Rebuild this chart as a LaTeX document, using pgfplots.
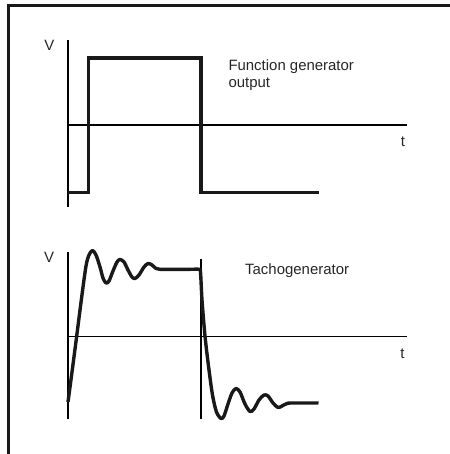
\documentclass[border=0pt]{standalone}
\usepackage{pgfplots}
\pgfplotsset{compat=1.18}
\usepackage{fontspec}
\setmainfont{Liberation Sans}
\tikzset{lbl/.style={font=\fontsize{15}{17}\selectfont, text=black!85}}
\begin{document}
\begin{tikzpicture}
\begin{axis}[
  width=450bp, height=454bp, scale only axis,
  xmin=0, xmax=450, ymin=0, ymax=454, y dir=reverse,
  hide axis, clip=false,
]
% frame
\addplot[line width=3bp, black!90, line join=miter] coordinates {(8.5,454) (8.5,5.7) (450,5.7)};
% top panel axes
\addplot[line width=1.4bp, black] coordinates {(68,40) (68,207)};
\addplot[line width=1.4bp, black] coordinates {(68,125) (407,125)};
% function generator square wave
\addplot[line width=3.4bp, black!90, line join=miter] coordinates {
 (68,192.3) (88.3,192.3) (88.3,58) (201,58) (201,192.5) (318.5,192.5)};
% bottom panel axes
\addplot[line width=1.4bp, black] coordinates {(68,252) (68,418.5)};
\addplot[line width=1.4bp, black] coordinates {(201,258.5) (201,418.5)};
\addplot[line width=1.4bp, black] coordinates {(68,336.5) (407,336.5)};
% tachogenerator response
\addplot[line width=3.4bp, black!90, smooth, tension=0.5, line join=round] coordinates {
 (68,402) (72,372) (76.7,336) (81.7,297) (86,266) (89,255) (92.5,250.5) (96,255)
 (100,267) (103,278) (106,283) (109,281) (113,271) (117,262) (120,259.5) (124,262)
 (128,270) (132,277) (135,278.5) (139,275) (144,267) (148,263.5) (152,265) (156,268.5)
 (160,269.3) (170,269.3) (190,269.3) (199,269.3) (200.5,272) (202,300) (205,336)
 (208.5,366) (212.5,395) (216.5,412) (221,418.5) (224,416) (228,404) (232,393)
 (236,388.5) (240,392) (245,404) (250,411.5) (254,409) (259,400) (264,395) (268,396)
 (273,403) (278,407.5) (282,406) (287,403.5) (292,403) (318.5,403)};
% labels
\node[lbl, anchor=base] at (axis cs:49.3,50.7) {V};
\node[lbl, anchor=base] at (axis cs:403,146) {t};
\node[lbl, anchor=base] at (axis cs:49,262.5) {V};
\node[lbl, anchor=base] at (axis cs:402.5,358.5) {t};
\node[lbl, anchor=base west, inner sep=0pt] at (axis cs:228.3,70.7) {Function generator};
\node[lbl, anchor=base west, inner sep=0pt] at (axis cs:228.3,87.3) {output};
\node[lbl, anchor=base west, inner sep=0pt] at (axis cs:245,274.6) {Tachogenerator};
\end{axis}
\pgfresetboundingbox
\path (current axis.south west) rectangle (current axis.north east);
\end{tikzpicture}
\end{document}
